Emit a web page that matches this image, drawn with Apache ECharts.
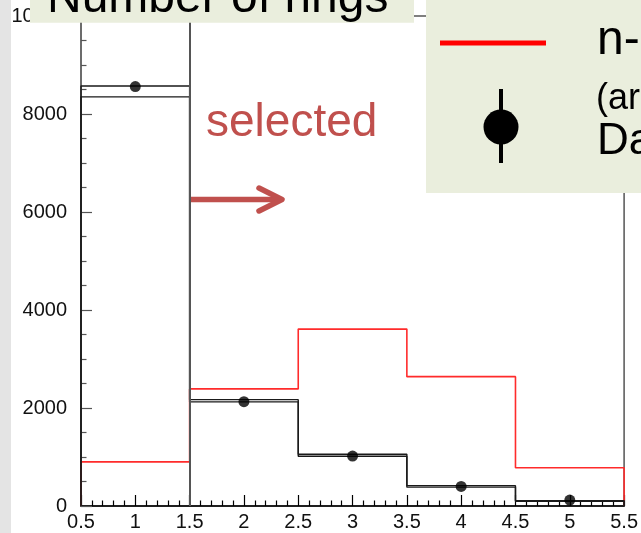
<!DOCTYPE html>
<html>
<head>
<meta charset="utf-8">
<script src="https://cdn.jsdelivr.net/npm/echarts@6/dist/echarts.min.js"></script>
<style>
  html, body { margin: 0; padding: 0; background: #ffffff; }
  #chart { width: 641px; height: 533px; }
</style>
</head>
<body>
<div id="chart"></div>
<script>
// Bin edges of the ring-count histogram (bins centred on 1..5)
const binEdges = [0.5, 1.5, 2.5, 3.5, 4.5, 5.5];
const binCenters = [1, 2, 3, 4, 5];

// n-nbar MC (arbitrary normalization)
const signalMC = [900, 2390, 3610, 2640, 780];
// Atmospheric neutrino MC band (upper / lower edges)
const atmUpper = [8570, 2170, 1055, 415, 110];
const atmLower = [8350, 2125, 1015, 385, 95];
// Data counts
const dataCounts = [8560, 2130, 1020, 400, 120];

// Axis ranges
const yMin = 0, yMax = 10000, yStep = 2000;
const xMin = 0.5, xMax = 5.5, xStep = 0.5;
const cutValue = 1.5;

// Turn per-bin values into a step outline, closed down to zero at both ends
function stepPath(values) {
  const pts = [[binEdges[0], 0]];
  values.forEach((v, i) => {
    pts.push([binEdges[i], v]);
    pts.push([binEdges[i + 1], v]);
  });
  pts.push([binEdges[binEdges.length - 1], 0]);
  return pts;
}

const chart = echarts.init(document.getElementById('chart'), null, { renderer: 'canvas' });

const font = '"Liberation Sans", Arial, sans-serif';
const boxFill = '#eaeedd';
const annotColor = '#c0504d';

chart.setOption({
  animation: false,
  backgroundColor: '#ffffff',
  grid: {
    left: 81, right: 16, top: 16, bottom: 27,
    show: true, borderColor: '#555', borderWidth: 1.5, backgroundColor: '#ffffff'
  },
  xAxis: {
    type: 'value', min: xMin, max: xMax, interval: xStep,
    axisLine: { show: true, onZero: false, lineStyle: { color: '#000', width: 1.5 } },
    axisTick: { show: true, inside: true, length: 11, lineStyle: { color: '#000', width: 1.2 } },
    minorTick: { show: true, splitNumber: 5, length: 5.5, lineStyle: { color: '#000', width: 1.2 } },
    splitLine: { show: false },
    axisLabel: { color: '#111', fontSize: 20, fontFamily: font, margin: 6, showMaxLabel: true, showMinLabel: true }
  },
  yAxis: {
    type: 'value', min: yMin, max: yMax, interval: yStep,
    axisLine: { show: true, lineStyle: { color: '#666', width: 1.5 } },
    axisTick: { show: true, inside: true, length: 11, lineStyle: { color: '#555', width: 1.2 } },
    minorTick: { show: true, splitNumber: 4, length: 5.5, lineStyle: { color: '#555', width: 1.2 } },
    splitLine: { show: false },
    axisLabel: { color: '#111', fontSize: 20, fontFamily: font, margin: 14,
      formatter: (v) => String(v) }
  },
  series: [
    {
      name: 'n-nbar MC', type: 'line', data: stepPath(signalMC),
      symbol: 'none', lineStyle: { color: '#ff2b2b', width: 1.6 }, z: 3
    },
    {
      name: 'atm upper', type: 'line', data: stepPath(atmUpper),
      symbol: 'none', lineStyle: { color: '#1a1a1a', width: 1.4 }, z: 4
    },
    {
      name: 'atm lower', type: 'line', data: stepPath(atmLower),
      symbol: 'none', lineStyle: { color: '#1a1a1a', width: 1.4 }, z: 4,
      markLine: {
        silent: true, symbol: ['none', 'none'], label: { show: false },
        lineStyle: { color: '#555', width: 2, type: 'solid' },
        data: [{ xAxis: cutValue }]
      }
    },
    {
      name: 'Data', type: 'scatter',
      data: binCenters.map((x, i) => [x, dataCounts[i]]),
      symbol: 'circle', symbolSize: 11, itemStyle: { color: '#000' }, z: 6
    }
  ],
  graphic: [
    // grey strip at the left edge of the slide
    { type: 'rect', z: 100, shape: { x: 0, y: 0, width: 11, height: 533 }, style: { fill: '#e4e4e4' } },
    // title box
    { type: 'rect', z: 100, shape: { x: 30, y: -10, width: 384, height: 32.7 }, style: { fill: boxFill } },
    { type: 'text', z: 101, x: 47, y: -1,
      style: { text: 'Number of rings', font: '48px ' + font, fill: '#000', verticalAlign: 'middle', align: 'left' } },
    // legend box
    { type: 'rect', z: 100, shape: { x: 426, y: -10, width: 230, height: 203 }, style: { fill: boxFill } },
    { type: 'line', z: 101, shape: { x1: 440, y1: 43, x2: 546, y2: 43 }, style: { stroke: '#ff0000', lineWidth: 5 } },
    { type: 'text', z: 101, x: 597, y: 40.5,
      style: { text: 'n-nbar MC', font: '48px ' + font, fill: '#000', verticalAlign: 'middle', align: 'left' } },
    { type: 'text', z: 101, x: 596, y: 99,
      style: { text: '(arbitrary normalization)', font: '36px ' + font, fill: '#000', verticalAlign: 'middle', align: 'left' } },
    { type: 'line', z: 101, shape: { x1: 501, y1: 89, x2: 501, y2: 163 }, style: { stroke: '#000', lineWidth: 4 } },
    { type: 'circle', z: 102, shape: { cx: 501, cy: 127, r: 17.5 }, style: { fill: '#000' } },
    { type: 'text', z: 101, x: 597, y: 141.5,
      style: { text: 'Data', font: '44px ' + font, fill: '#000', verticalAlign: 'middle', align: 'left' } },
    // "selected" annotation with arrow
    { type: 'text', z: 101, x: 206, y: 123,
      style: { text: 'selected', font: '46px ' + font, fill: annotColor, verticalAlign: 'middle', align: 'left' } },
    { type: 'line', z: 101, shape: { x1: 191, y1: 199.5, x2: 280, y2: 199.5 },
      style: { stroke: annotColor, lineWidth: 5.5 } },
    { type: 'polyline', z: 101, shape: { points: [[259, 188], [282, 199.5], [259, 211]] },
      style: { stroke: annotColor, lineWidth: 5.5, fill: null, lineCap: 'round', lineJoin: 'round' } }
  ]
});
</script>
</body>
</html>
